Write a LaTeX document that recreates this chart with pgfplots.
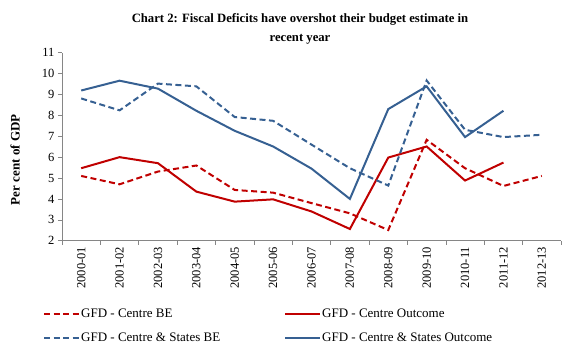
\documentclass[border=0pt]{standalone}
\usepackage{pgfplots}
\pgfplotsset{compat=1.18}
\usepackage{fontspec}
\setmainfont{Liberation Serif}
\definecolor{cred}{RGB}{192,0,0}
\definecolor{cblue}{RGB}{54,96,146}
\definecolor{axgray}{RGB}{134,134,134}
\begin{document}
\begin{tikzpicture}
\useasboundingbox (-62bp,-112.3bp) rectangle (514bp,240.7bp);
\begin{axis}[
  at={(0,0)}, anchor=south west,
  scale only axis, width=499bp, height=188bp,
  xmin=-0.5, xmax=12.5, ymin=2, ymax=11,
  axis x line*=bottom, axis y line*=left,
  axis line style={axgray, line width=0.6pt},
  xtick={0,...,12},
  xticklabels={2000-01,2001-02,2002-03,2003-04,2004-05,2005-06,2006-07,2007-08,2008-09,2009-10,2010-11,2011-12,2012-13},
  minor xtick={-0.5,0.5,...,12.5},
  major x tick style={draw=none},
  minor x tick style={axgray, line width=0.6pt},
  ytick={2,...,11},
  y tick style={axgray, line width=0.6pt},
  tick align=outside,
  major tick length=4bp, minor tick length=4bp,
  xticklabel style={rotate=90, anchor=east, font=\fontsize{12.5bp}{14bp}\selectfont, inner sep=2bp},
  yticklabel style={font=\fontsize{12.5bp}{14bp}\selectfont},
  /pgf/number format/assume math mode=true,
  ylabel={\textbf{Per cent of GDP}},
  every axis y label/.style={at={(-47bp,81bp)}, rotate=90, anchor=center, font=\fontsize{13bp}{15bp}\selectfont},
  title={\textbf{Chart 2: Fiscal Deficits have overshot their budget estimate in}\\\textbf{recent year}},
  every axis title/.style={align=center, font=\fontsize{12.7bp}{19bp}\selectfont, at={(238bp,198.7bp)}, anchor=base},
  legend columns=2,
  legend style={draw=none, fill=none, at={(-22bp,-65bp)}, anchor=north west,
    font=\fontsize{13bp}{15bp}\selectfont, row sep=12bp,
    nodes={inner sep=1bp},
    /tikz/every even column/.append style={column sep=63bp}},
  legend cell align=left,
  legend image code/.code={\draw[#1] (0bp,0bp) -- (35bp,0bp);},
  clip=false,
]
\addplot[cred, line width=2bp, dash pattern=on 6bp off 3.5bp] coordinates {
(0,5.10) (1,4.70) (2,5.31) (3,5.60) (4,4.43) (5,4.30) (6,3.80) (7,3.31) (8,2.51) (9,6.83) (10,5.47) (11,4.62) (12,5.10)};
\addlegendentry{GFD - Centre BE}
\addplot[cred, line width=2bp] coordinates {
(0,5.47) (1,6.00) (2,5.71) (3,4.35) (4,3.87) (5,3.98) (6,3.40) (7,2.56) (8,5.98) (9,6.51) (10,4.88) (11,5.74)};
\addlegendentry{GFD - Centre Outcome}
\addplot[cblue, line width=2bp, dash pattern=on 6bp off 3.5bp] coordinates {
(0,8.81) (1,8.24) (2,9.52) (3,9.39) (4,7.92) (5,7.74) (6,6.60) (7,5.47) (8,4.64) (9,9.67) (10,7.31) (11,6.96) (12,7.07)};
\addlegendentry{GFD - Centre \& States BE}
\addplot[cblue, line width=2bp] coordinates {
(0,9.19) (1,9.66) (2,9.28) (3,8.22) (4,7.26) (5,6.51) (6,5.45) (7,4.00) (8,8.30) (9,9.39) (10,6.96) (11,8.22)};
\addlegendentry{GFD - Centre \& States Outcome}
\end{axis}
\end{tikzpicture}
\end{document}
